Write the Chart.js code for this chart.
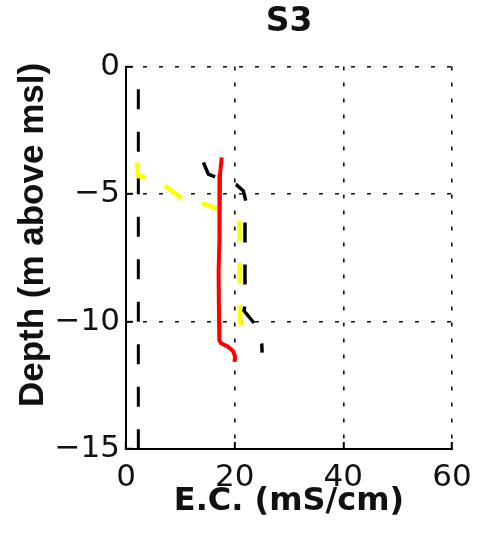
<!DOCTYPE html>
<html>
<head>
<meta charset="utf-8">
<title>S3</title>
<script src="https://cdn.jsdelivr.net/npm/chart.js@4.4.1/dist/chart.umd.min.js"></script>
<style>
    html, body { margin: 0; padding: 0; background: #fff; }
    #wrap { width: 477px; height: 537px; }
</style>
</head>
<body>
<div id="wrap"><canvas id="profileChart"></canvas></div>
<script>
// E.C. profiles at station S3 (x = mS/cm, y = depth in m above msl)
const titleText = 'S3'
const xLabel = 'E.C. (mS/cm)'
const yLabel = 'Depth (m above msl)'

const xTicks = [0, 20, 40, 60]
const yTicks = [-15, -10, -5, 0]

// black dashed, near-fresh profile
const ecBlackA = [2.27, 2.27]
const depthBlackA = [-0.89, -15]

// yellow dashed profile
const ecYellow = [1.97, 2.27, 3.81, 7.18, 10.55, 14.55, 17.92, 20.87, 20.9, 20.9, 21.1]
const depthYellow = [-3.76, -4.29, -4.35, -4.68, -5.2, -5.4, -5.66, -5.99, -7.5, -9.3, -10.17]

// black dashed, saline profile
const ecBlackB = [14.24, 15.16, 16.7, 20.39, 21.6, 22.1, 21.9, 21.9, 21.73, 23.76, 24.99, 25.05]
const depthBlackB = [-3.76, -4.22, -4.35, -4.65, -4.88, -5.31, -5.8, -9.3, -9.58, -10.11, -10.89, -11.22]

// red solid profile
const ecRed = [17.62, 17.3, 17.18, 17.22, 17.04, 17.13, 17.18, 17.5, 18.78, 19.7, 20.07, 19.98]
const depthRed = [-3.56, -4.22, -4.81, -6.77, -8.07, -10.03, -10.73, -10.85, -10.99, -11.16, -11.36, -11.58]

let toPoints = (xs, ys) => xs.map((x, i) => ({ x: x, y: ys[i] }))

let minus = (v) => v < 0 ? '\u2212' + Math.abs(v) : String(v)

// y label is drawn by hand so it can sit a bit above the axis centre
let yLabelPlugin = {
    id: 'yLabel',
    afterDraw: (chart) => {
        const ctx = chart.ctx
        ctx.save()
        ctx.font = 'bold 35px "Liberation Sans", Arial, sans-serif'
        ctx.fillStyle = '#111'
        ctx.textAlign = 'center'
        ctx.textBaseline = 'alphabetic'
        ctx.translate(43, 235)
        ctx.rotate(-Math.PI / 2)
        ctx.fillText(yLabel, 0, 0)
        ctx.restore()
    }
}

let plot = () => {

    const ctx = document.getElementById('profileChart');

    const tickFont = { family: 'DejaVu Sans', size: 31 }
    const gridOpts = { color: '#111', lineWidth: 1.6, tickLength: -7, tickColor: '#000', tickWidth: 2 }
    const borderOpts = { color: '#000', width: 2, dash: [4, 12] }

    const dataset = {
        datasets: [{
            label: 'red',
            data: toPoints(ecRed, depthRed),
            borderColor: 'rgb(255, 0, 0)',
            borderWidth: 4,
            pointRadius: 0
        }, {
            label: 'black B',
            data: toPoints(ecBlackB, depthBlackB),
            borderColor: '#000',
            borderWidth: 3.5,
            borderDash: [20, 22],
            pointRadius: 0
        }, {
            label: 'yellow',
            data: toPoints(ecYellow, depthYellow),
            borderColor: 'rgb(255, 255, 0)',
            borderWidth: 4.5,
            borderDash: [21, 21],
            pointRadius: 0
        }, {
            label: 'black A',
            data: toPoints(ecBlackA, depthBlackA),
            borderColor: '#000',
            borderWidth: 3,
            borderDash: [20, 22.5],
            pointRadius: 0
        }]
    };

    const config = {
        type: 'line',
        data: dataset,
        plugins: [yLabelPlugin],
        options: {
            animation: false,
            responsive: true,
            maintainAspectRatio: false,
            devicePixelRatio: 1,
            layout: { padding: { left: 0, right: 25, top: 0, bottom: 0 } },
            plugins: {
                legend: { display: false },
                tooltip: { enabled: false },
                title: {
                    display: true,
                    text: titleText,
                    fullSize: false,
                    color: '#111',
                    font: { family: 'DejaVu Sans', size: 33, weight: 'bold' },
                    padding: { top: 3, bottom: 24 }
                }
            },
            scales: {
                x: {
                    type: 'linear',
                    min: xTicks[0],
                    max: xTicks[xTicks.length - 1],
                    afterBuildTicks: (s) => { s.ticks = xTicks.map(v => ({ value: v })) },
                    ticks: { color: '#111', font: tickFont, padding: 17, maxRotation: 0 },
                    grid: gridOpts,
                    border: borderOpts,
                    title: {
                        display: true,
                        text: xLabel,
                        color: '#111',
                        font: { family: 'DejaVu Sans', size: 32, weight: 'bold' },
                        padding: { top: 0, bottom: 16 }
                    },
                    // fixed axis height; end labels may overhang the plot edges
                    afterFit: (s) => {
                        s.height = 88
                        s.paddingLeft = 0
                        s.paddingRight = 0
                    }
                },
                y: {
                    type: 'linear',
                    min: yTicks[0],
                    max: yTicks[yTicks.length - 1],
                    afterBuildTicks: (s) => { s.ticks = yTicks.map(v => ({ value: v })) },
                    ticks: { color: '#111', font: tickFont, padding: 13, callback: minus },
                    grid: gridOpts,
                    border: borderOpts,
                    afterFit: (s) => { s.width = 126 }
                }
            }
        }
    };

    const chart = new Chart(ctx, config)
}

plot();
</script>
</body>
</html>
